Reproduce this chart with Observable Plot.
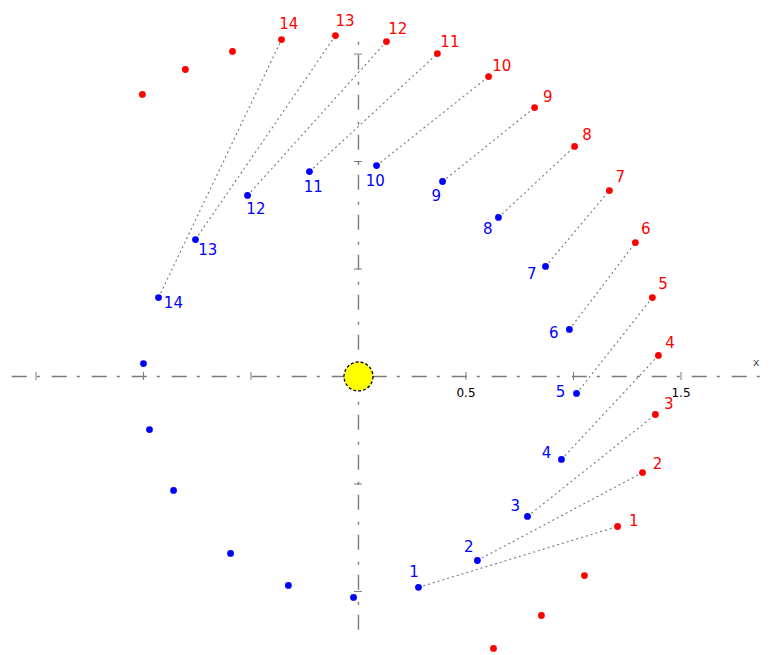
<!DOCTYPE html>
<html>
<head>
<meta charset="utf-8">
<script src="https://cdn.jsdelivr.net/npm/d3@7"></script>
<script src="https://cdn.jsdelivr.net/npm/@observablehq/plot@0.6"></script>
<style>
  html, body { margin: 0; padding: 0; background: #fff; }
  #chart svg { display: block; }
</style>
</head>
<body>
<div id="chart"></div>
<script>
// Positions in AU (Sun at origin)
const steps = [1,2,3,4,5,6,7,8,9,10,11,12,13,14];
const earthX = [0.279,0.553,0.786,0.944,1.014,0.981,0.870,0.651,0.391,0.084,-0.228,-0.516,-0.758,-0.930];
const earthY = [-0.981,-0.856,-0.651,-0.386,-0.079,0.219,0.512,0.740,0.907,0.981,0.953,0.842,0.637,0.367];
const marsX  = [1.205,1.321,1.381,1.395,1.367,1.288,1.167,1.005,0.819,0.605,0.367,0.130,-0.107,-0.358];
const marsY  = [-0.698,-0.447,-0.177,0.098,0.367,0.623,0.865,1.070,1.251,1.395,1.502,1.558,1.586,1.567];
// unlabeled orbit positions
const earthExtraX = [-1.000,-0.972,-0.860,-0.595,-0.326,-0.023];
const earthExtraY = [0.060,-0.247,-0.530,-0.823,-0.972,-1.028];
const marsExtraX  = [-0.586,-0.805,-1.005,1.051,0.851,0.628];
const marsExtraY  = [1.512,1.428,1.312,-0.926,-1.112,-1.265];
const xTicks = [-1.5,-1,-0.5,0.5,1,1.5];
const yTicks = [-1,-0.5,0.5,1,1.5];
const xTickLabels = [[0.5,"0.5"],[1.5,"1.5"]];

const W = 771, H = 655;
const xDom = [-1.665, 1.921], yDom = [-1.298, 1.749];
const pxPerUnit = W / (xDom[1] - xDom[0]);

const rows = steps.map((s, i) => ({s, ex: earthX[i], ey: earthY[i], mx: marsX[i], my: marsY[i]}));
const earthExtra = earthExtraX.map((x, i) => ({x, y: earthExtraY[i]}));
const marsExtra = marsExtraX.map((x, i) => ({x, y: marsExtraY[i]}));

// label offsets (in data units) computed from geometry
const offBlue = 16 / pxPerUnit, offRed = 17 / pxPerUnit;
function towardSun(d) { const L = Math.hypot(d.ex, d.ey); return [-d.ex / L, -d.ey / L]; }
function alongLink(d) { const vx = d.mx - d.ex, vy = d.my - d.ey, L = Math.hypot(vx, vy); return [vx / L, vy / L]; }

const axisStroke = "#7a7a7a";
const tick = 4 / pxPerUnit;

const chart = Plot.plot({
  width: W, height: H,
  margin: 0,
  x: {domain: xDom, axis: null},
  y: {domain: yDom, axis: null},
  marks: [
    Plot.ruleY([0], {x1: -1.61, x2: xDom[1], stroke: axisStroke, strokeWidth: 1.4, strokeDasharray: "15,10,3,12"}),
    Plot.ruleX([0], {y1: -1.18, y2: 1.60, stroke: axisStroke, strokeWidth: 1.4, strokeDasharray: "15,10,3,12"}),
    Plot.ruleX(xTicks, {x: d => d, y1: -tick, y2: tick, stroke: axisStroke}),
    Plot.ruleY(yTicks, {y: d => d, x1: -tick, x2: tick, stroke: axisStroke}),
    Plot.text(xTickLabels, {x: d => d[0], y: 0, text: d => d[1], dy: 17, fontSize: 12, fill: "#000", fontFamily: "DejaVu Sans"}),
    Plot.text(["x"], {x: 1.85, y: 0, text: d => d, dy: -14, fontSize: 11, fill: "#555", fontFamily: "DejaVu Sans"}),
    Plot.link(rows, {x1: "ex", y1: "ey", x2: "mx", y2: "my", stroke: "#777", strokeWidth: 1.1, strokeDasharray: "2,3"}),
    Plot.dot([{x: 0, y: 0}], {x: "x", y: "y", r: 14.5, fill: "#ffff00", stroke: "#000", strokeWidth: 1.3, strokeDasharray: "3,2"}),
    Plot.dot(earthExtra, {x: "x", y: "y", r: 3.4, fill: "#0000ff"}),
    Plot.dot(marsExtra, {x: "x", y: "y", r: 3.4, fill: "#ff0000"}),
    Plot.dot(rows, {x: "ex", y: "ey", r: 3.4, fill: "#0000ff"}),
    Plot.dot(rows, {x: "mx", y: "my", r: 3.4, fill: "#ff0000"}),
    Plot.text(rows, {
      x: d => d.ex + towardSun(d)[0] * offBlue,
      y: d => d.ey + towardSun(d)[1] * offBlue,
      text: d => String(d.s), fill: "#0000ff", fontSize: 15, fontFamily: "DejaVu Sans"
    }),
    Plot.text(rows, {
      x: d => d.mx + alongLink(d)[0] * offRed,
      y: d => d.my + alongLink(d)[1] * offRed,
      text: d => String(d.s), fill: "#ff0000", fontSize: 15, fontFamily: "DejaVu Sans"
    })
  ]
});
document.getElementById("chart").appendChild(chart);
</script>
</body>
</html>
